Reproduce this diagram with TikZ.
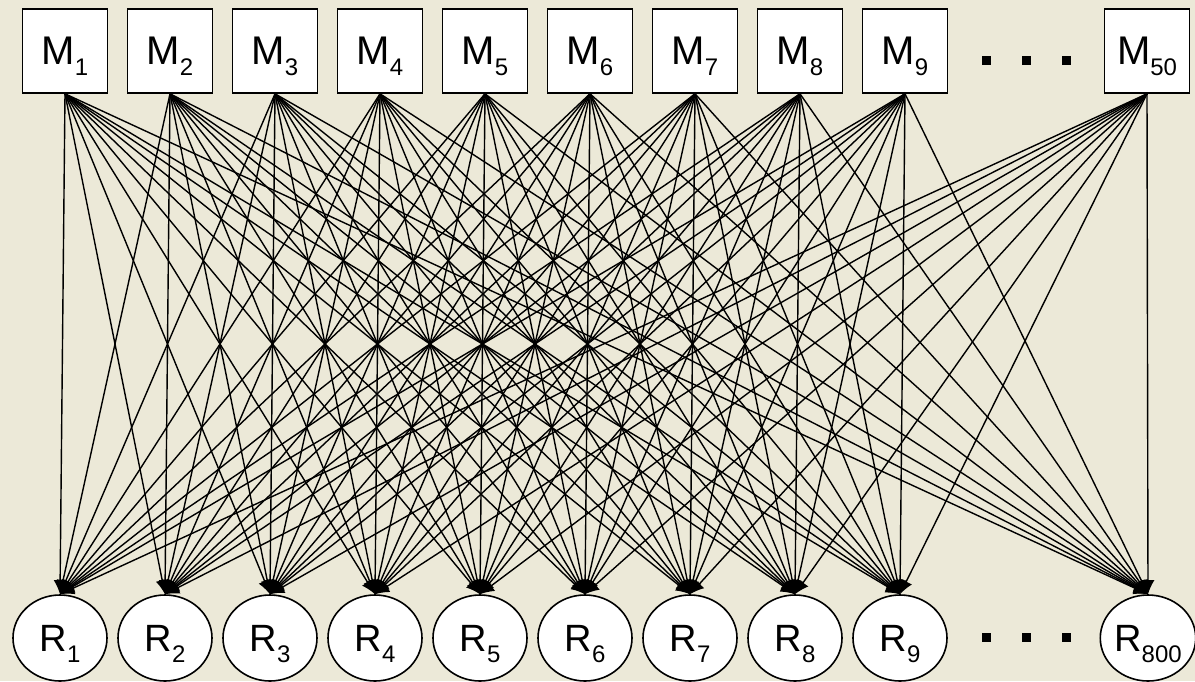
\documentclass[tikz,border=0pt]{standalone}
\usepackage{fontspec}
\setmainfont{Liberation Sans}
\usetikzlibrary{arrows.meta}
\usetikzlibrary{shapes.geometric}
\definecolor{panel}{RGB}{236,233,216}
\newcommand{\lowsub}[1]{\raisebox{-11pt}{\fontsize{24}{24}\selectfont #1}}

\begin{document}
\begin{tikzpicture}[x=1pt,y=-1pt,>={Latex[length=14pt,width=13pt]},
  mbox/.style={draw,line width=1.6pt,fill=white,minimum width=85pt,minimum height=84pt,
    inner sep=0pt,text depth=0pt,font=\fontsize{40}{40}\selectfont},
  rnode/.style={ellipse,draw,line width=1.6pt,fill=white,minimum width=94pt,minimum height=86pt,
    inner sep=0pt,text depth=0pt,font=\fontsize{38}{38}\selectfont},
  gapdot/.style={fill=black,minimum size=9pt,inner sep=0pt},
  link/.style={->,line width=1.4pt}]
\useasboundingbox (0,0) rectangle (1195,681);
\fill[panel] (0,0) rectangle (1195,681);

% top row
\node[mbox](M1) at (65,51) {M\lowsub{1}};
\node[mbox](M2) at (170,51) {M\lowsub{2}};
\node[mbox](M3) at (275,51) {M\lowsub{3}};
\node[mbox](M4) at (380,51) {M\lowsub{4}};
\node[mbox](M5) at (485,51) {M\lowsub{5}};
\node[mbox](M6) at (590,51) {M\lowsub{6}};
\node[mbox](M7) at (695,51) {M\lowsub{7}};
\node[mbox](M8) at (800,51) {M\lowsub{8}};
\node[mbox](M9) at (905,51) {M\lowsub{9}};
\node[mbox](M50) at (1147,51) {M\lowsub{50}};
\node[gapdot](mdot1) at (986,60) {};
\node[gapdot](mdot2) at (1026,60) {};
\node[gapdot](mdot3) at (1066,60) {};

% bottom row
\node[rnode](R1) at (60,638) {R\lowsub{1}};
\node[rnode](R2) at (165,638) {R\lowsub{2}};
\node[rnode](R3) at (270,638) {R\lowsub{3}};
\node[rnode](R4) at (375,638) {R\lowsub{4}};
\node[rnode](R5) at (480,638) {R\lowsub{5}};
\node[rnode](R6) at (585,638) {R\lowsub{6}};
\node[rnode](R7) at (690,638) {R\lowsub{7}};
\node[rnode](R8) at (795,638) {R\lowsub{8}};
\node[rnode](R9) at (900,638) {R\lowsub{9}};
\node[rnode](R800) at (1148,638) {R\lowsub{800}};
\node[gapdot](rdot1) at (986,637) {};
\node[gapdot](rdot2) at (1026,637) {};
\node[gapdot](rdot3) at (1066,637) {};

% every M feeds every R
\foreach \m in {1,...,9,50}
  \foreach \r in {1,...,9,800}
    \draw[link] (M\m.south) -- (R\r.north);
\end{tikzpicture}
\end{document}
